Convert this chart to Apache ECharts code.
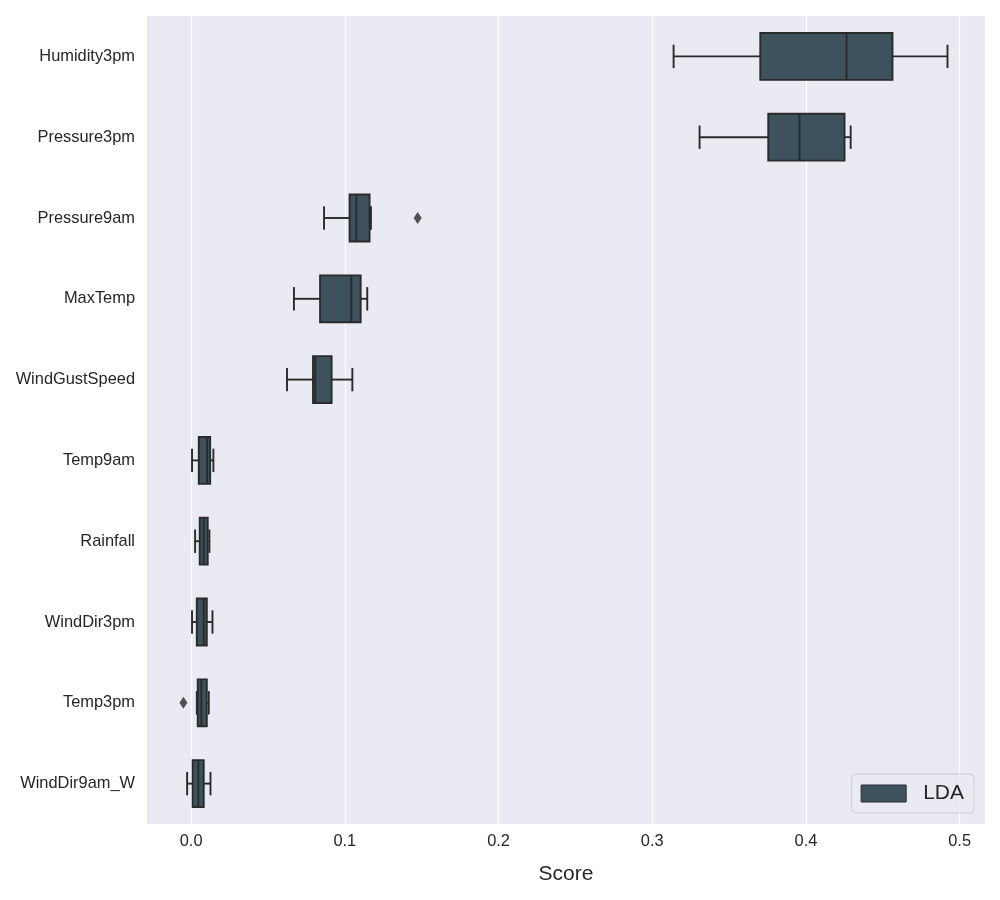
<!DOCTYPE html>
<html>
<head>
<meta charset="utf-8">
<script src="https://cdn.jsdelivr.net/npm/echarts@6/dist/echarts.min.js"></script>
<style>html,body{margin:0;padding:0;background:#fff}#c{width:1000px;height:900px}</style>
</head>
<body>
<div id="c"></div>
<script>
const categories = ['Humidity3pm','Pressure3pm','Pressure9am','MaxTemp','WindGustSpeed','Temp9am','Rainfall','WindDir3pm','Temp3pm','WindDir9am_W'];
const whiskerLow = [0.3139, 0.3308, 0.0865, 0.0669, 0.0624, 0.0006, 0.0026, 0.0006, 0.0037, -0.0026];
const q1 =         [0.3703, 0.3755, 0.1031, 0.0839, 0.0793, 0.0050, 0.0056, 0.0037, 0.0043, 0.0010];
const medians =    [0.4264, 0.3958, 0.1075, 0.1042, 0.0808, 0.0104, 0.0082, 0.0082, 0.0067, 0.0047];
const q3 =         [0.4563, 0.4251, 0.1161, 0.1103, 0.0914, 0.0124, 0.0108, 0.0102, 0.0102, 0.0082];
const whiskerHigh =[0.4921, 0.4291, 0.1170, 0.1146, 0.1049, 0.0145, 0.0119, 0.0139, 0.0115, 0.0126];
const outlierCats = ['Pressure9am', 'Temp3pm'];
const outlierVals = [0.1474, -0.0050];
const xTicks = [0.0, 0.1, 0.2, 0.3, 0.4, 0.5];

const boxData = categories.map((c, i) => [i, whiskerLow[i], q1[i], medians[i], q3[i], whiskerHigh[i]]);
const outData = outlierCats.map((c, i) => [outlierVals[i], categories.indexOf(c)]);

const FILL = '#3d525c';
const EDGE = '#2a2a2a';
const LW = 1.9;

function renderBox(params, api) {
  const ci = api.value(0);
  const band = api.size([0, 1])[1];
  const h = band * 0.58;
  const cap = h * 0.5;
  const pMin = api.coord([api.value(1), ci]);
  const pQ1 = api.coord([api.value(2), ci]);
  const pMed = api.coord([api.value(3), ci]);
  const pQ3 = api.coord([api.value(4), ci]);
  const pMax = api.coord([api.value(5), ci]);
  const y = pQ1[1];
  const ls = {stroke: EDGE, lineWidth: LW, fill: null};
  return {
    type: 'group',
    children: [
      {type: 'line', shape: {x1: pMin[0], y1: y, x2: pQ1[0], y2: y}, style: ls},
      {type: 'line', shape: {x1: pQ3[0], y1: y, x2: pMax[0], y2: y}, style: ls},
      {type: 'line', shape: {x1: pMin[0], y1: y - cap/2, x2: pMin[0], y2: y + cap/2}, style: ls},
      {type: 'line', shape: {x1: pMax[0], y1: y - cap/2, x2: pMax[0], y2: y + cap/2}, style: ls},
      {type: 'rect', shape: {x: pQ1[0], y: y - h/2, width: pQ3[0] - pQ1[0], height: h}, style: {fill: FILL, stroke: EDGE, lineWidth: LW}},
      {type: 'line', shape: {x1: pMed[0], y1: y - h/2, x2: pMed[0], y2: y + h/2}, style: ls}
    ]
  };
}

const chart = echarts.init(document.getElementById('c'), null, {renderer: 'canvas'});
chart.setOption({
  backgroundColor: '#ffffff',
  animation: false,
  textStyle: {fontFamily: 'Liberation Sans, Arial, sans-serif'},
  grid: {left: 147, right: 15, top: 16, bottom: 76, show: true, backgroundColor: '#eaeaf2', borderWidth: 0},
  legend: {
    data: ['LDA'],
    right: 26, bottom: 87,
    orient: 'vertical',
    icon: 'rect',
    itemWidth: 45, itemHeight: 17, itemGap: 10,
    padding: [9, 10, 9, 9],
    borderColor: '#cccccc', borderWidth: 1, borderRadius: 4,
    backgroundColor: 'rgba(234,234,242,0.8)',
    textStyle: {fontSize: 21, color: '#262626', fontFamily: 'Liberation Sans, Arial, sans-serif', padding: [0, 0, 0, 12]},
    itemStyle: {color: FILL, borderColor: EDGE, borderWidth: 1}
  },
  xAxis: {
    type: 'value', min: -0.0287, max: 0.5165,
    name: 'Score', nameLocation: 'middle', nameGap: 40,
    nameTextStyle: {fontSize: 21, color: '#262626'},
    axisLine: {show: false},
    axisTick: {show: false, customValues: xTicks},
    axisLabel: {
      fontSize: 16.4, color: '#262626', margin: 9,
      customValues: xTicks,
      formatter: v => v.toFixed(1)
    },
    splitLine: {show: true, lineStyle: {color: '#ffffff', width: 1.2}}
  },
  yAxis: {
    type: 'category', data: categories, inverse: true,
    axisLine: {show: false}, axisTick: {show: false},
    axisLabel: {fontSize: 16.4, color: '#262626', margin: 12},
    splitLine: {show: false}
  },
  series: [
    {
      name: 'LDA', type: 'custom', renderItem: renderBox,
      itemStyle: {color: FILL, borderColor: EDGE},
      encode: {x: [1, 2, 3, 4, 5], y: 0},
      data: boxData, z: 3
    },
    {
      name: 'outliers', type: 'scatter', symbol: 'diamond', symbolSize: [8, 12],
      itemStyle: {color: EDGE}, data: outData, z: 4
    }
  ]
});
</script>
</body>
</html>
